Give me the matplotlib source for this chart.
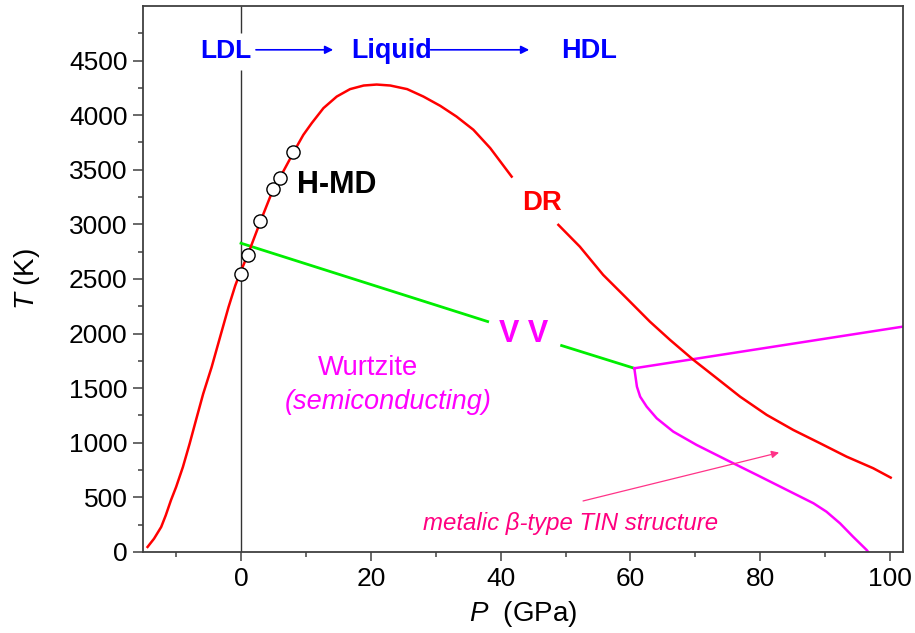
import matplotlib
matplotlib.use("Agg")
import matplotlib.pyplot as plt
from matplotlib.ticker import MultipleLocator

plt.rcParams['font.family'] = ['Liberation Sans', 'DejaVu Sans']
plt.rcParams['mathtext.fontset'] = 'custom'
plt.rcParams['mathtext.rm'] = 'Liberation Sans'
plt.rcParams['mathtext.it'] = 'Liberation Sans:italic'

# ---- data ----
# DR melting curve (two pieces, gap around the "DR" label)
dr1_P = [-14.4, -13.4, -12.3, -11.6, -10.8, -10.0, -8.96, -7.92, -6.88, -5.83, -4.53,
         -3.23, -1.93, -0.89, -0.21, 1.0, 3.0, 5.0, 6.0, 8.3, 9.6, 10.9, 12.7, 14.75,
         16.8, 18.9, 20.9, 23.0, 25.6, 28.1, 30.7, 33.2, 35.8, 38.4, 41.7]
dr1_T = [46, 122, 229, 335, 473, 595, 777, 991, 1220, 1448, 1692,
         1967, 2241, 2439, 2546, 2715, 3028, 3328, 3428, 3682, 3819, 3927, 4064, 4170,
         4238, 4271, 4280, 4271, 4238, 4170, 4085, 3987, 3866, 3698, 3437]
dr2_P = [48.9, 52.2, 55.8, 59.4, 63.0, 66.1, 69.7, 73.3, 76.9, 81.0, 85.1, 89.2,
         93.3, 97.4, 100.1]
dr2_T = [2995, 2796, 2537, 2324, 2109, 1942, 1759, 1591, 1422, 1255, 1117, 996,
         873, 767, 681]

# H-MD points
hmd_P = [0, 1, 3, 5, 6, 8]
hmd_T = [2545, 2715, 3028, 3328, 3428, 3666]

# Wurtzite / beta-tin boundary (green), gap around "V V"
g1_P = [0.0, 38.0]
g1_T = [2827, 2110]
g2_P = [49.4, 60.6]
g2_T = [1890, 1682]

# magenta boundaries
m_up_P = [60.6, 102.05]
m_up_T = [1682, 2064]
m_dn_P = [60.6, 61.0, 61.5, 62.5, 64.05, 66.6, 70.2, 74.8, 79.5, 84.1, 88.2,
          90.2, 92.3, 94.3, 96.4, 96.9]
m_dn_T = [1682, 1514, 1422, 1331, 1224, 1102, 980, 843, 705, 568, 446,
          369, 262, 140, 18, -20]

# axis settings
x_lim = (-15.1, 102.0)
y_lim = (0, 4999)

fig = plt.figure(figsize=(9.15, 6.33), dpi=100)
ax = fig.add_axes([0.1563, 0.1280, 0.8306, 0.8625])
ax.set_xlim(*x_lim)
ax.set_ylim(*y_lim)

ax.xaxis.set_major_locator(MultipleLocator(20))
ax.xaxis.set_minor_locator(MultipleLocator(10))
ax.yaxis.set_major_locator(MultipleLocator(500))
ax.yaxis.set_minor_locator(MultipleLocator(250))
ax.tick_params(which='major', direction='out', length=6.5, width=1.1, labelsize=19,
               color='#404040', pad=4)
ax.tick_params(which='minor', direction='out', length=3.5, width=1.1, color='#404040')
ax.tick_params(axis='y', which='major', length=7.5, pad=3.5)
ax.tick_params(top=False, right=False, which='both')
for s in ax.spines.values():
    s.set_color('#404040')
    s.set_linewidth(1.3)

ax.set_xlabel(r'$P$  (GPa)', fontsize=20)
ax.set_ylabel(r'$T$ (K)', fontsize=20)
ax.xaxis.set_label_coords(0.5, -0.086)
ax.yaxis.set_label_coords(-0.133, 0.5)

# zero-pressure line with gap for LDL label
ax.vlines(0, 0, 4415, colors='#333333', lw=1.0, zorder=1)
ax.vlines(0, 4750, 5000, colors='#333333', lw=1.0, zorder=1)

# curves
ax.plot(dr1_P, dr1_T, color='#FF0000', lw=1.8, zorder=3)
ax.plot(dr2_P, dr2_T, color='#FF0000', lw=1.8, zorder=3)
ax.plot(g1_P, g1_T, color='#00EE00', lw=2.0, zorder=2)
ax.plot(g2_P, g2_T, color='#00EE00', lw=2.0, zorder=2)
ax.plot(m_up_P, m_up_T, color='#FF00FF', lw=1.8, zorder=2)
ax.plot(m_dn_P, m_dn_T, color='#FF00FF', lw=1.8, zorder=2)
ax.plot(hmd_P, hmd_T, linestyle='none', marker='o', markersize=9.5,
        markerfacecolor='white', markeredgecolor='black', markeredgewidth=1.0, zorder=4)

# labels
ax.text(-2.3, 4522, 'LDL', color='#0000FF', fontsize=19, fontweight='bold',
        ha='center', va='baseline')
ax.text(23.2, 4522, 'Liquid', color='#0000FF', fontsize=19.4, fontweight='bold',
        ha='center', va='baseline')
ax.text(53.6, 4522, 'HDL', color='#0000FF', fontsize=19.5, fontweight='bold',
        ha='center', va='baseline')
ax.annotate('', xy=(14.2, 4598), xytext=(2.3, 4598),
            arrowprops=dict(arrowstyle='-|>', color='#0000FF', lw=1.2,
                            mutation_scale=12, shrinkA=0, shrinkB=0))
ax.annotate('', xy=(44.4, 4598), xytext=(29.2, 4598),
            arrowprops=dict(arrowstyle='-|>', color='#0000FF', lw=1.2,
                            mutation_scale=12, shrinkA=0, shrinkB=0))

ax.text(8.6, 3285, 'H-MD', color='black', fontsize=22, fontweight='bold',
        ha='left', va='baseline')
ax.text(46.3, 3132, 'DR', color='#FF0000', fontsize=19.8, fontweight='bold',
        ha='center', va='baseline')
ax.text(43.6, 1926, 'V V', color='#FF00FF', fontsize=22, fontweight='bold',
        ha='center', va='baseline')
ax.text(19.5, 1621, 'Wurtzite', color='#FF00FF', fontsize=19.8,
        ha='center', va='baseline')
ax.text(22.6, 1307, '(semiconducting)', color='#FF00FF', fontsize=19.5,
        style='italic', ha='center', va='baseline')
ax.text(50.7, 201, 'metalic β-type TIN structure', color='#FF0080', fontsize=17.3,
        style='italic', ha='center', va='baseline')
ax.annotate('', xy=(82.9, 910), xytext=(52.7, 467),
            arrowprops=dict(arrowstyle='-|>', color='#FF3388', lw=0.9,
                            mutation_scale=11, shrinkA=0, shrinkB=0))

fig.savefig('out.png', dpi=100)
